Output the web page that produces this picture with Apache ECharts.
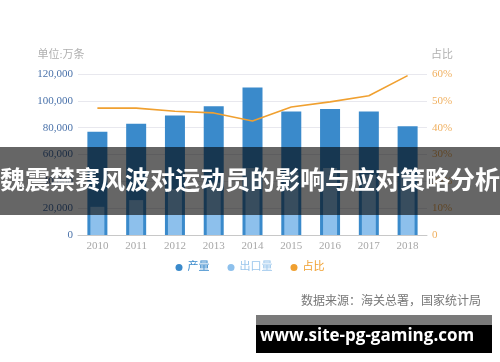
<!DOCTYPE html>
<html><head><meta charset="utf-8">
<script src="https://cdn.jsdelivr.net/npm/echarts@6/dist/echarts.min.js"></script>
<style>html,body{margin:0;padding:0;background:#fff}#c{width:500px;height:362px}</style>
</head><body><div id="c"></div>
<script>
var years = ['2010','2011','2012','2013','2014','2015','2016','2017','2018'];
var output = [77000, 83000, 89000, 96000, 110000, 92000, 94000, 92000, 81000];
var exportQty = [21000, 26000, 34000, 39000, 50000, 47000, 50000, 45000, 48000];
var share = [47.3, 47.3, 46.1, 45.5, 42.5, 47.7, 49.6, 51.9, 59.4];
var leftTicks = {min: 0, max: 120000, interval: 20000};
var rightTicks = {min: 0, max: 60, interval: 10};
var title = '魏震禁赛风波对运动员的影响与应对策略分析';
var source = '数据来源：海关总署，国家统计局';
var site = 'www.site-pg-gaming.com';

var serif = '"Liberation Serif","DejaVu Serif","Noto Sans CJK SC",serif';
var chart = echarts.init(document.getElementById('c'));
chart.setOption({
  animation: false,
  grid: {left: 78, right: 73, top: 74, bottom: 127},
  legend: {
    left: 'center', top: 257, itemWidth: 7, itemHeight: 7, itemGap: 18,
    icon: 'circle',
    textStyle: {fontFamily: serif, fontSize: 11},
    data: [
      {name: '产量', textStyle: {color: '#3a8acb'}},
      {name: '出口量', textStyle: {color: '#9ac6ec'}},
      {name: '占比', textStyle: {color: '#f0a030'}}
    ]
  },
  xAxis: [{
    type: 'category', data: years,
    axisLine: {lineStyle: {color: '#c8c8c8'}},
    axisTick: {show: false},
    axisLabel: {color: '#a8a8a8', fontFamily: serif, fontSize: 11, margin: 6}
  }, {
    type: 'category', data: years, show: false
  }],
  yAxis: [{
    type: 'value', min: leftTicks.min, max: leftTicks.max, interval: leftTicks.interval,
    name: '单位:万条', nameGap: 13,
    nameTextStyle: {color: '#b0b0b0', fontFamily: serif, fontSize: 11, align: 'center', padding: [0, 34, 0, 0]},
    axisLine: {show: false}, axisTick: {show: false},
    axisLabel: {color: '#4a72aa', fontFamily: serif, fontSize: 11, margin: 5,
      formatter: function (v) { return v.toLocaleString('en-US'); }},
    splitLine: {lineStyle: {color: '#e8e8ee'}}
  }, {
    type: 'value', min: rightTicks.min, max: rightTicks.max, interval: rightTicks.interval,
    name: '占比', nameGap: 13,
    nameTextStyle: {color: '#b0b0b0', fontFamily: serif, fontSize: 11, align: 'center', padding: [0, 0, 0, 30]},
    axisLine: {show: false}, axisTick: {show: false},
    axisLabel: {color: '#f0b060', fontFamily: serif, fontSize: 11, margin: 5,
      formatter: function (v) { return v === 0 ? '0' : v + '%'; }},
    splitLine: {show: false}
  }],
  series: [{
    name: '产量', type: 'bar', data: output, barWidth: 20,
    itemStyle: {color: '#3a8acb'}
  }, {
    name: '出口量', type: 'bar', xAxisIndex: 1, data: exportQty, barWidth: 14,
    itemStyle: {color: '#8dc0ec'}
  }, {
    name: '占比', type: 'line', yAxisIndex: 1, data: share,
    showSymbol: false, symbol: 'none', color: '#f0a030',
    lineStyle: {color: '#f0a030', width: 1.6}
  }],
  graphic: [
    {type: 'rect', left: 0, top: 147, shape: {width: 500, height: 68}, style: {fill: 'rgba(0,0,0,0.6)'}, z: 100},
    {type: 'text', left: 'center', top: 167, z: 101,
      style: {text: title, fill: '#fff', font: 'bold 25px "Noto Sans CJK SC"'}},
    {type: 'text', right: 19, top: 296, z: 101,
      style: {text: source, fill: '#777', font: '12px ' + serif}},
    {type: 'rect', left: 256, top: 315, shape: {width: 236, height: 10}, style: {fill: '#7a7a7a'}, z: 100},
    {type: 'rect', left: 256, top: 325, shape: {width: 236, height: 28}, style: {fill: '#000'}, z: 100},
    {type: 'text', left: 260, top: 328, z: 101,
      style: {text: site, fill: '#fff', font: 'bold 17px "Open Sans"'}}
  ]
});
</script></body></html>
